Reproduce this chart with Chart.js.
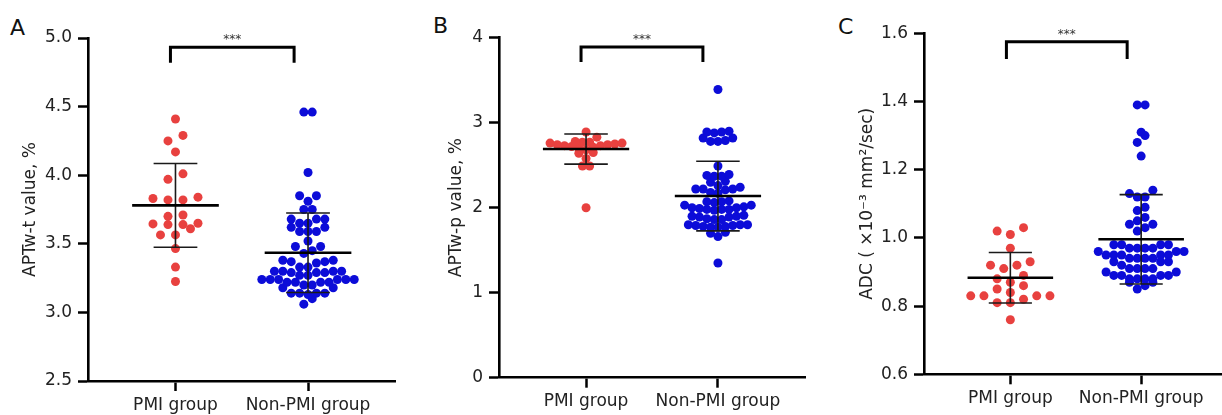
<!DOCTYPE html>
<html>
<head>
<meta charset="utf-8">
<script src="https://cdn.jsdelivr.net/npm/chart.js@4"></script>
<style>
  html, body { margin: 0; padding: 0; background: #fff; overflow: hidden; }
  body { width: 1222px; height: 415px; position: relative; }
  canvas { position: absolute; top: 0; }
  .letter { position: absolute; font-family: 'DejaVu Sans', sans-serif; font-size: 22px; line-height: 1; color: #111; }
</style>
</head>
<body>
<div class="letter" style="left:10px;top:17px">A</div>
<div class="letter" style="left:433px;top:15px">B</div>
<div class="letter" style="left:838px;top:16px">C</div>
<canvas id="chartA" width="400" height="415" style="left:0"></canvas>
<canvas id="chartB" width="410" height="415" style="left:400px"></canvas>
<canvas id="chartC" width="412" height="415" style="left:820px"></canvas>
<script>
const groups = ['PMI group', 'Non-PMI group'];

// A: APTw-t
const aPmi = [4.41, 4.29, 4.25, 4.17, 4.01, 3.97, 3.84, 3.83, 3.82, 3.82, 3.71, 3.70,
  3.65, 3.645, 3.64, 3.64, 3.61, 3.565, 3.565, 3.465, 3.33, 3.225];
const aNon = [4.46, 4.46, 4.02, 3.85, 3.85, 3.81, 3.75, 3.75, 3.68, 3.68, 3.68, 3.65,
  3.65, 3.62, 3.62, 3.59, 3.59, 3.59, 3.52, 3.48, 3.48, 3.45, 3.43, 3.38, 3.38, 3.37,
  3.37, 3.36, 3.33, 3.33, 3.30, 3.30, 3.30, 3.30, 3.29, 3.29, 3.29, 3.27, 3.27, 3.24,
  3.24, 3.24, 3.24, 3.24, 3.24, 3.22, 3.22, 3.22, 3.22, 3.20, 3.20, 3.18, 3.18, 3.14,
  3.14, 3.14, 3.14, 3.13, 3.10, 3.06];
const aMean = [3.78, 3.435];
const aSd = [0.305, 0.29];
const aTicks = [2.5, 3.0, 3.5, 4.0, 4.5, 5.0];

// B: APTw-p
const bPmi = [2.89, 2.83, 2.78, 2.77, 2.77, 2.76, 2.76, 2.75, 2.74, 2.74, 2.73, 2.73,
  2.72, 2.71, 2.70, 2.68, 2.65, 2.64, 2.58, 2.49, 2.49, 2.00];
const bNon = [3.39, 2.89, 2.90, 2.88, 2.89, 2.82, 2.78, 2.82, 2.79, 2.78, 2.49, 2.38,
  2.37, 2.39, 2.37, 2.31, 2.30, 2.26, 2.24, 2.22, 2.22, 2.21, 2.22, 2.18, 2.17, 2.07,
  2.07, 2.08, 2.06, 2.03, 2.03, 2.00, 2.01, 2.00, 1.98, 1.98, 1.99, 1.98, 1.97, 1.90,
  1.90, 1.91, 1.89, 1.89, 1.86, 1.87, 1.86, 1.80, 1.79, 1.80, 1.80, 1.79, 1.77, 1.78,
  1.77, 1.78, 1.71, 1.70, 1.66, 1.35];
const bMean = [2.69, 2.137];
const bSd = [0.177, 0.41];
const bTicks = [0, 1, 2, 3, 4];

// C: ADC
const cPmi = [1.03, 1.02, 1.01, 0.97, 0.93, 0.92, 0.92, 0.91, 0.89, 0.88, 0.87, 0.86,
  0.85, 0.84, 0.83, 0.83, 0.83, 0.83, 0.82, 0.81, 0.81, 0.76];
const cNon = [1.39, 1.39, 1.31, 1.30, 1.28, 1.24, 1.14, 1.13, 1.12, 1.12, 1.09, 1.08,
  1.06, 1.05, 1.04, 1.04, 1.03, 1.02, 0.98, 0.98, 0.98, 0.98, 0.97, 0.97, 0.97, 0.97,
  0.96, 0.96, 0.96, 0.95, 0.95, 0.95, 0.95, 0.95, 0.94, 0.94, 0.94, 0.94, 0.93, 0.93,
  0.93, 0.92, 0.91, 0.91, 0.91, 0.91, 0.90, 0.90, 0.89, 0.89, 0.89, 0.89, 0.88, 0.88,
  0.88, 0.88, 0.87, 0.87, 0.86, 0.85];
const cMean = [0.883, 0.996];
const cSd = [0.074, 0.131];
const cTicks = [0.6, 0.8, 1.0, 1.2, 1.4, 1.6];

const colors = ['#e8413f', '#0c0cd8'];
const font = 'DejaVu Sans';

// mean line + SD whiskers, drawn on top of the dots
const errorBars = {
  id: 'errorBars',
  afterDatasetsDraw(chart, args, opts) {
    const { ctx, scales: { x, y } } = chart;
    ctx.save();
    opts.mean.forEach((m, i) => {
      const cx = x.getPixelForValue(i + 1);
      const wMean = x.getPixelForValue(i + 1 + 0.327) - cx;
      const wCap = x.getPixelForValue(i + 1 + 0.165) - cx;
      const yM = y.getPixelForValue(m);
      const yHi = y.getPixelForValue(m + opts.sd[i]);
      const yLo = y.getPixelForValue(m - opts.sd[i]);
      ctx.strokeStyle = '#1a1a1a';
      ctx.lineWidth = 1.6;
      ctx.beginPath();
      ctx.moveTo(cx, yHi); ctx.lineTo(cx, yLo);
      ctx.moveTo(cx - wCap, yHi); ctx.lineTo(cx + wCap, yHi);
      ctx.moveTo(cx - wCap, yLo); ctx.lineTo(cx + wCap, yLo);
      ctx.stroke();
      ctx.strokeStyle = '#000';
      ctx.lineWidth = 2.6;
      ctx.beginPath();
      ctx.moveTo(cx - wMean, yM); ctx.lineTo(cx + wMean, yM);
      ctx.stroke();
    });
    ctx.restore();
  }
};

// significance bracket with ***
const bracket = {
  id: 'bracket',
  afterDraw(chart, args, opts) {
    const { ctx, scales: { x, y } } = chart;
    const x1 = x.getPixelForValue(opts.x1), x2 = x.getPixelForValue(opts.x2);
    const yt = y.getPixelForValue(opts.top), yb = y.getPixelForValue(opts.bottom);
    ctx.save();
    ctx.strokeStyle = '#000';
    ctx.lineWidth = 3;
    ctx.beginPath();
    ctx.moveTo(x1, yb); ctx.lineTo(x1, yt); ctx.lineTo(x2, yt); ctx.lineTo(x2, yb);
    ctx.stroke();
    ctx.fillStyle = '#333';
    ctx.font = '12px "' + font + '"';
    ctx.textAlign = 'center';
    ctx.textBaseline = 'alphabetic';
    ctx.fillText('***', (x1 + x2) / 2, yt - 4);
    ctx.restore();
  }
};

// spread dots of one group into rows, like a scatter dot plot
function swarm(chart, lists, spread) {
  const { x, y } = chart.scales;
  lists.forEach((vals, gi) => {
    const cx = x.getPixelForValue(gi + 1);
    const sorted = [...vals].sort((a, b) => a - b);
    const pts = [];
    let bin = [];
    const flush = () => {
      // centred slots, filled from the middle outwards
      const slots = bin.map((v, i) => i - (bin.length - 1) / 2)
        .sort((a, b) => Math.abs(a) - Math.abs(b) || a - b);
      bin.forEach((v, i) => {
        pts.push({ x: x.getValueForPixel(cx + slots[i] * spread[gi]), y: v });
      });
      bin = [];
    };
    sorted.forEach(v => {
      if (bin.length && Math.abs(y.getPixelForValue(v) - y.getPixelForValue(bin[0])) > 7) flush();
      bin.push(v);
    });
    flush();
    chart.data.datasets[gi].data = pts;
  });
  chart.update('none');
}

function makePanel(id, p) {
  const chart = new Chart(document.getElementById(id), {
    type: 'scatter',
    data: {
      datasets: p.values.map((vals, gi) => ({
        label: groups[gi],
        data: vals.map(v => ({ x: gi + 1, y: v })),
        backgroundColor: colors[gi],
        borderWidth: 0,
        pointRadius: 4.5,
        pointHoverRadius: 4.5
      }))
    },
    options: {
      responsive: false,
      animation: false,
      events: [],
      layout: { padding: { top: p.top, right: p.right, left: 0, bottom: 0 } },
      plugins: {
        legend: { display: false },
        tooltip: { enabled: false },
        errorBars: { mean: p.mean, sd: p.sd },
        bracket: p.bracket
      },
      scales: {
        x: {
          type: 'linear',
          min: 0.34,
          max: 2.66,
          afterBuildTicks: s => { s.ticks = [{ value: 1 }, { value: 2 }]; },
          afterFit: s => { s.height = p.xHeight; },
          ticks: {
            callback: v => groups[v - 1],
            autoSkip: false,
            maxRotation: 0,
            padding: 4,
            color: '#222',
            font: { family: font, size: 17 }
          },
          grid: { drawOnChartArea: false, drawTicks: true, tickLength: 10, tickWidth: 2.5, tickColor: '#000', color: '#000' },
          border: { display: true, color: '#000', width: 2.6 }
        },
        y: {
          min: p.ticks[0],
          max: p.ticks[p.ticks.length - 1],
          afterBuildTicks: s => { s.ticks = p.ticks.map(v => ({ value: v })); },
          afterFit: s => { s.width = p.yWidth; },
          ticks: {
            callback: v => v.toFixed(p.digits),
            padding: 6,
            color: '#222',
            font: { family: font, size: 17 }
          },
          title: {
            display: true,
            text: p.title,
            color: '#222',
            font: { family: font, size: 17 },
            padding: { top: p.titlePad, bottom: 0 }
          },
          grid: { drawOnChartArea: false, drawTicks: true, tickLength: 10, tickWidth: 2.5, tickColor: '#000', color: '#000' },
          border: { display: true, color: '#000', width: 2.6 }
        }
      }
    },
    plugins: [errorBars, bracket]
  });
  swarm(chart, p.values, p.spread);
  return chart;
}

makePanel('chartA', {
  values: [aPmi, aNon], mean: aMean, sd: aSd, ticks: aTicks, digits: 1,
  title: 'APTw-t value, %', titlePad: 20,
  top: 38, right: 2.5, yWidth: 88, xHeight: 34, spread: [15, 8.4],
  bracket: { x1: 0.962, x2: 1.895, top: 4.933, bottom: 4.82 }
});

makePanel('chartB', {
  values: [bPmi, bNon], mean: bMean, sd: bSd, ticks: bTicks, digits: 0,
  title: 'APTw-p value, %', titlePad: 46,
  top: 37.7, right: 5, yWidth: 99, xHeight: 37.3, spread: [7.2, 7.4],
  bracket: { x1: 0.962, x2: 1.886, top: 3.89, bottom: 3.714 }
});

makePanel('chartC', {
  values: [cPmi, cNon], mean: cMean, sd: cSd, ticks: cTicks, digits: 1,
  title: 'ADC ( ×10⁻³ mm²/sec)', titlePad: 37,
  top: 33.3, right: 4, yWidth: 104, xHeight: 40.7, spread: [13.2, 7.8],
  bracket: { x1: 0.97, x2: 1.893, top: 1.575, bottom: 1.525 }
});
</script>
</body>
</html>
